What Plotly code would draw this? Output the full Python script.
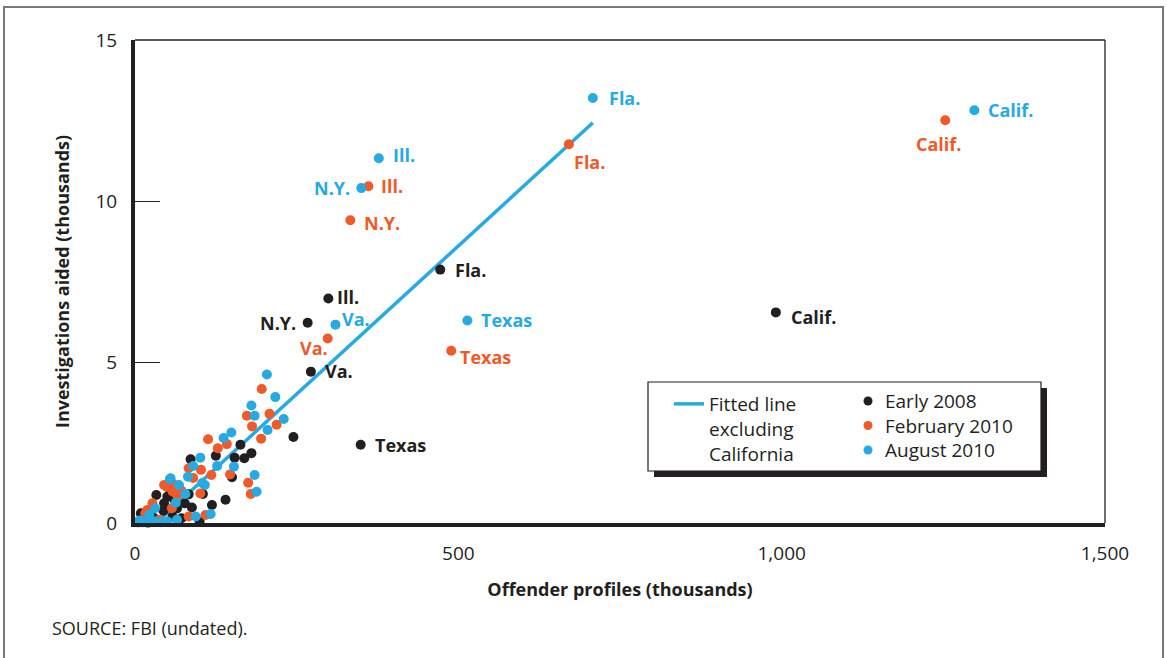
import plotly.graph_objects as go

# ---------------- data (thousands) ----------------
# Labelled states
early_2008_states = ["N.Y.", "Ill.", "Fla.", "Va.", "Texas", "Calif."]
early_2008_state_x = [267, 299, 472, 272, 349, 991]
early_2008_state_y = [6.22, 6.97, 7.87, 4.70, 2.43, 6.54]

feb_2010_states = ["Ill.", "N.Y.", "Fla.", "Va.", "Texas", "Calif."]
feb_2010_state_x = [361, 333, 671, 298, 489, 1253]
feb_2010_state_y = [10.46, 9.40, 11.76, 5.73, 5.35, 12.51]

aug_2010_states = ["Ill.", "N.Y.", "Fla.", "Va.", "Texas", "Calif."]
aug_2010_state_x = [377, 350, 708, 310, 514, 1298]
aug_2010_state_y = [11.33, 10.40, 13.20, 6.16, 6.29, 12.82]

# Unlabelled states (cluster near the origin)
early_2008_x = [245, 163, 180, 169, 154, 125, 86, 150, 140, 119, 88, 77, 83, 33, 50,
                45, 44, 58, 9, 100, 52, 65, 72, 30, 20, 60, 15, 5, 25, 105]
early_2008_y = [2.67, 2.43, 2.17, 2.01, 2.03, 2.09, 1.98, 1.42, 0.72, 0.56, 0.48, 0.61, 0.89, 0.87, 0.82,
                0.61, 0.38, 0.20, 0.30, 0.04, 1.10, 0.45, 0.15, 0.15, 0.05, 0.75, 0.10, 0.02, 0.40, 0.90]

feb_2010_x = [196, 173, 208, 181, 219, 195, 113, 128, 142, 118, 147, 175, 179, 102, 83,
              101, 49, 65, 57, 83, 109, 19, 37, 58, 27, 16, 72, 90, 45, 60]
feb_2010_y = [4.16, 3.33, 3.39, 3.00, 3.05, 2.62, 2.60, 2.32, 2.45, 1.49, 1.51, 1.25, 0.90, 1.65, 1.70,
              0.92, 1.13, 0.87, 0.46, 0.20, 0.25, 0.40, 0.09, 0.98, 0.61, 0.30, 1.00, 1.40, 1.18, 1.20]

aug_2010_x = [204, 217, 180, 185, 230, 205, 149, 137, 101, 90, 153, 127, 108, 82, 68,
              54, 78, 63, 185, 188, 117, 94, 31, 22, 5, 12, 20, 30, 40, 55, 104, 50, 65, 8]
aug_2010_y = [4.61, 3.91, 3.65, 3.33, 3.23, 2.89, 2.81, 2.64, 2.03, 1.77, 1.75, 1.77, 1.18, 1.44, 1.18,
              1.36, 0.90, 0.63, 1.49, 0.97, 0.28, 0.20, 0.46, 0.25, 0.05, 0.02, 0.00, 0.05, 0.02, 1.39,
              1.24, 0.05, 0.10, 0.08]

# Fitted line excluding California (end points)
fit_x = [40, 708]
fit_y = [0.14, 12.43]

x_tickvals = [0, 500, 1000, 1500]
x_ticktext = ["0", "500", "1,000", "1,500"]
y_tickvals = [0, 5, 10, 15]
y_ticktext = ["0", "5", "10", "15"]

series_names = ["Early 2008", "February 2010", "August 2010"]

# ---------------- styling ----------------
BLACK = "#231f20"
ORANGE = "#f05a28"
BLUE = "#27aae1"
SERIES_COLORS = [BLACK, ORANGE, BLUE]
FONT = "Open Sans"

L, R, T, B = 135, 1105, 40, 523
W, H = R - L, B - T


def px(xp):
    return (xp - L) / W


def py(yp):
    return (B - yp) / H


fig = go.Figure()

fig.add_trace(go.Scatter(
    x=fit_x, y=fit_y, mode="lines", name="Fitted line<br>excluding<br>California",
    line=dict(color=BLUE, width=3.5), cliponaxis=False, hoverinfo="skip"))

series_xy = [
    (early_2008_x + early_2008_state_x, early_2008_y + early_2008_state_y),
    (feb_2010_x + feb_2010_state_x, feb_2010_y + feb_2010_state_y),
    (aug_2010_x + aug_2010_state_x, aug_2010_y + aug_2010_state_y),
]
for name, color, (xs, ys) in zip(series_names, SERIES_COLORS, series_xy):
    fig.add_trace(go.Scatter(
        x=xs, y=ys, mode="markers", name=name, showlegend=False,
        marker=dict(color=color, size=10, line=dict(width=0)), cliponaxis=False))

# label placement: (xanchor, xshift, yshift)
place_2008 = {"N.Y.": ("right", -10, 0), "Ill.": ("left", 7, 2), "Fla.": ("left", 13, 0),
              "Va.": ("left", 12, 1), "Texas": ("left", 12, 0), "Calif.": ("left", 13, -5)}
place_feb = {"Ill.": ("left", 11, 0), "N.Y.": ("left", 12, -3), "Fla.": ("left", 3, -18),
             "Va.": ("right", 2, -10), "Texas": ("left", 7, -6), "Calif.": ("center", -7, -24)}
place_aug = {"Ill.": ("left", 12, 3), "N.Y.": ("right", -9, 0), "Fla.": ("left", 14, 0),
             "Va.": ("left", 5, 6), "Texas": ("left", 12, 0), "Calif.": ("left", 12, 0)}

for names, xs, ys, color, place in [
    (early_2008_states, early_2008_state_x, early_2008_state_y, BLACK, place_2008),
    (feb_2010_states, feb_2010_state_x, feb_2010_state_y, ORANGE, place_feb),
    (aug_2010_states, aug_2010_state_x, aug_2010_state_y, BLUE, place_aug),
]:
    for n, xv, yv in zip(names, xs, ys):
        anc, xs_, ys_ = place[n]
        fig.add_annotation(x=xv, y=yv, xref="x", yref="y", text=n, showarrow=False,
                           xanchor=anc, yanchor="middle", xshift=xs_, yshift=ys_,
                           font=dict(family=FONT, size=18, color=color, weight="bold"))

# source note
fig.add_annotation(x=px(50), y=py(628), xref="paper", yref="paper", text="SOURCE: FBI (undated).",
                   showarrow=False, xanchor="left", yanchor="middle",
                   font=dict(family=FONT, size=18, color=BLACK))

shapes = [
    # outer frame
    dict(type="rect", xref="paper", yref="paper", x0=px(4), x1=px(1163), y0=py(680), y1=py(7),
         line=dict(color="#77787b", width=2), fillcolor="rgba(0,0,0,0)", layer="below"),
    # thin top / right borders of plot
    dict(type="line", xref="paper", yref="paper", x0=0, x1=1, y0=1, y1=1,
         line=dict(color=BLACK, width=1.3)),
    dict(type="line", xref="paper", yref="paper", x0=1, x1=1, y0=0, y1=1,
         line=dict(color=BLACK, width=1.3)),
    # legend shadow and box
    dict(type="rect", xref="paper", yref="paper", x0=px(654), x1=px(1047), y0=py(477), y1=py(388),
         line=dict(width=0), fillcolor=BLACK, layer="below"),
    dict(type="rect", xref="paper", yref="paper", x0=px(648), x1=px(1041), y0=py(471), y1=py(382),
         line=dict(color=BLACK, width=1.2), fillcolor="white", layer="below"),
]

# series key (second column of the legend box)
key_rows_y = [401, 425.5, 450]
for name, color, ky in zip(series_names, SERIES_COLORS, key_rows_y):
    shapes.append(dict(type="circle", xref="paper", yref="paper", xsizemode="pixel", ysizemode="pixel",
                       xanchor=px(868), yanchor=py(ky), x0=-4.5, x1=4.5, y0=-4.5, y1=4.5,
                       fillcolor=color, line=dict(width=0)))
    fig.add_annotation(x=px(883), y=py(ky), xref="paper", yref="paper", text=name, showarrow=False,
                       xanchor="left", yanchor="middle",
                       font=dict(family=FONT, size=19, color=BLACK))

fig.update_layout(
    width=1167, height=658,
    margin=dict(l=L, r=1167 - R, t=T, b=658 - B, autoexpand=False),
    paper_bgcolor="white", plot_bgcolor="white",
    font=dict(family=FONT, color=BLACK, size=19),
    shapes=shapes,
    showlegend=True,
    legend=dict(x=px(669), y=py(385), xanchor="left", yanchor="top", bgcolor="rgba(0,0,0,0)",
                borderwidth=0, valign="top", font=dict(family=FONT, size=19, color=BLACK),
                itemclick=False, itemdoubleclick=False),
    xaxis=dict(range=[0, 1500], tickvals=x_tickvals, ticktext=x_ticktext, showgrid=False,
               zeroline=False, showline=True, linewidth=4, linecolor=BLACK, ticks="",
               automargin=False,
               ticklabelstandoff=10, tickfont=dict(size=19, color=BLACK, family=FONT),
               title=dict(text="Offender profiles (thousands)", standoff=20,
                          font=dict(size=18, family=FONT, color=BLACK, weight="bold"))),
    yaxis=dict(range=[0, 15], tickvals=y_tickvals, ticktext=y_ticktext, showgrid=False,
               zeroline=False, showline=True, linewidth=4, linecolor=BLACK, ticks="inside",
               automargin=False,
               ticklen=25, tickwidth=1.2, tickcolor=BLACK, ticklabelstandoff=10,
               tickfont=dict(size=19, color=BLACK, family=FONT),
               title=dict(text="Investigations aided (thousands)", standoff=22,
                          font=dict(size=18, family=FONT, color=BLACK, weight="bold"))),
)

fig.write_html("out.html", config={"displayModeBar": False},
               post_script="document.body.style.margin='0';document.body.style.overflow='hidden';")
